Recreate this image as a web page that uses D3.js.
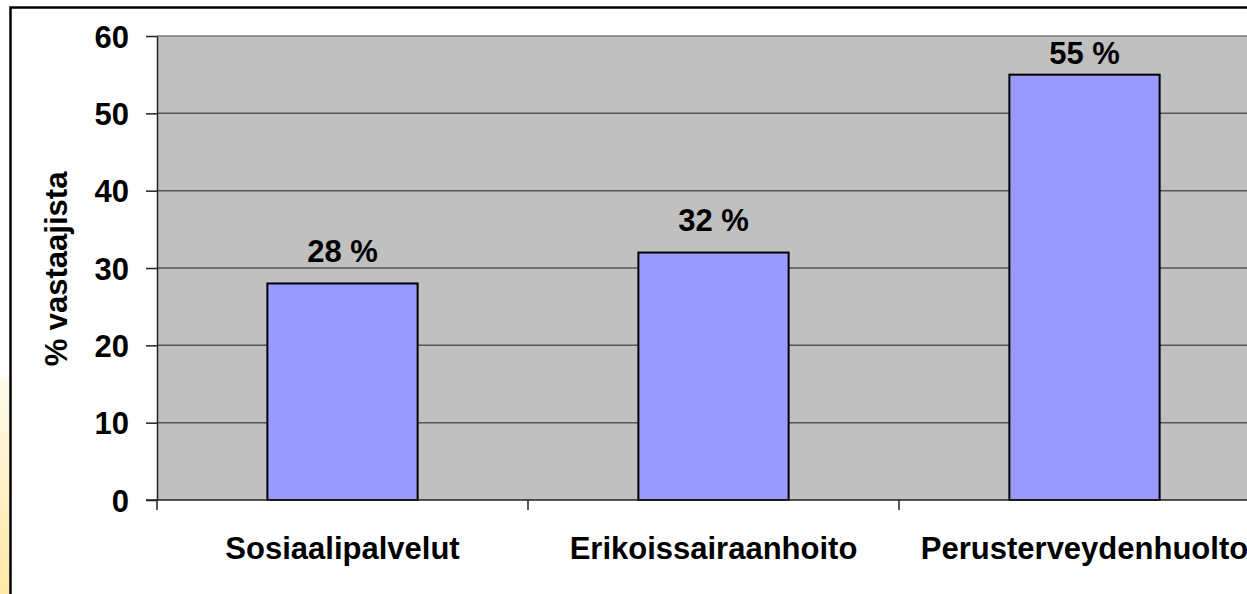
<!DOCTYPE html>
<html>
<head>
<meta charset="utf-8">
<script src="https://cdn.jsdelivr.net/npm/d3@7"></script>
<style>
  html, body { margin: 0; padding: 0; background: #ffffff; overflow: hidden; }
  svg { display: block; }
  text { font-family: "Liberation Sans", Arial, sans-serif; font-weight: bold; fill: #000; }
</style>
</head>
<body>
<svg id="chart" width="1247" height="594"></svg>
<script>
const categories = ["Sosiaalipalvelut", "Erikoissairaanhoito", "Perusterveydenhuolto"];
const values = [28, 32, 55];
const valueLabels = ["28 %", "32 %", "55 %"];
const yTicks = [0, 10, 20, 30, 40, 50, 60];
const yTitle = "% vastaajista";

const svg = d3.select("#chart");
const W = 1247, H = 594;

// left decorative gradient strip
const defs = svg.append("defs");
const grad = defs.append("linearGradient").attr("id", "strip")
  .attr("x1", 0).attr("y1", 0).attr("x2", 0).attr("y2", 1);
grad.append("stop").attr("offset", "0%").attr("stop-color", "#fffaea");
grad.append("stop").attr("offset", "100%").attr("stop-color", "#ffe9a6");
svg.append("rect").attr("x", 0).attr("y", 377).attr("width", 10).attr("height", H - 377)
  .attr("fill", "url(#strip)");

// outer frame (extends beyond view)
svg.append("rect").attr("x", 10.5).attr("y", 7.5).attr("width", 1300).attr("height", 700)
  .attr("fill", "#ffffff").attr("stroke", "#000").attr("stroke-width", 2.5);

const plot = { left: 157, right: 1270, top: 36, bottom: 500 };

const x = d3.scaleBand().domain(categories).range([plot.left, plot.right]).paddingInner(0).paddingOuter(0);
const y = d3.scaleLinear().domain([0, 60]).range([plot.bottom, plot.top]);

// plot background
svg.append("rect").attr("x", plot.left).attr("y", plot.top)
  .attr("width", plot.right - plot.left).attr("height", plot.bottom - plot.top)
  .attr("fill", "#c0c0c0");

// gridlines
svg.append("g").selectAll("line").data(yTicks.filter(d => d > 0)).join("line")
  .attr("x1", plot.left).attr("x2", plot.right)
  .attr("y1", d => y(d)).attr("y2", d => y(d))
  .attr("stroke", d => d === 60 ? "#7a7a7a" : "#555555").attr("stroke-width", 1.5);

// bars
const bw = x.bandwidth() * 0.405;
svg.append("g").selectAll("rect").data(values).join("rect")
  .attr("x", (d, i) => x(categories[i]) + (x.bandwidth() - bw) / 2)
  .attr("y", d => y(d))
  .attr("width", bw)
  .attr("height", d => y(0) - y(d))
  .attr("fill", "#9999ff").attr("stroke", "#000").attr("stroke-width", 2);

// value labels (kept inside the plot area)
svg.append("g").selectAll("text").data(values).join("text")
  .attr("x", (d, i) => x(categories[i]) + x.bandwidth() / 2)
  .attr("y", d => Math.max(y(d) - 21.5, plot.top + 27.5))
  .attr("text-anchor", "middle")
  .style("font-size", "31px")
  .text((d, i) => valueLabels[i]);

// y axis
const yAxis = d3.axisLeft(y).tickValues(yTicks).tickSize(11).tickPadding(17).tickSizeOuter(0);
const gy = svg.append("g").attr("transform", `translate(${plot.left},0)`).call(yAxis);
gy.select(".domain").attr("stroke", "#222").attr("stroke-width", 1.5);
gy.selectAll(".tick line").attr("stroke", "#222").attr("stroke-width", 1.5);
gy.selectAll(".tick text").style("font-size", "31px").attr("font-family", null)
  .attr("fill", "#000").attr("dy", "0.36em");

// x axis
const boundaries = categories.map(c => x(c)).concat([plot.right]);
svg.append("line").attr("x1", plot.left - 11).attr("x2", plot.right)
  .attr("y1", plot.bottom).attr("y2", plot.bottom)
  .attr("stroke", "#222").attr("stroke-width", 1.5);
svg.append("g").selectAll("line").data(boundaries).join("line")
  .attr("x1", d => d).attr("x2", d => d)
  .attr("y1", plot.bottom).attr("y2", plot.bottom + 10)
  .attr("stroke", "#222").attr("stroke-width", 1.5);
svg.append("g").selectAll("text").data(categories).join("text")
  .attr("x", d => x(d) + x.bandwidth() / 2)
  .attr("y", 559)
  .attr("text-anchor", "middle")
  .style("font-size", "31px")
  .text(d => d);

// y title
svg.append("text")
  .attr("transform", "translate(67,269) rotate(-90)")
  .attr("text-anchor", "middle")
  .style("font-size", "31px")
  .text(yTitle);
</script>
</body>
</html>
